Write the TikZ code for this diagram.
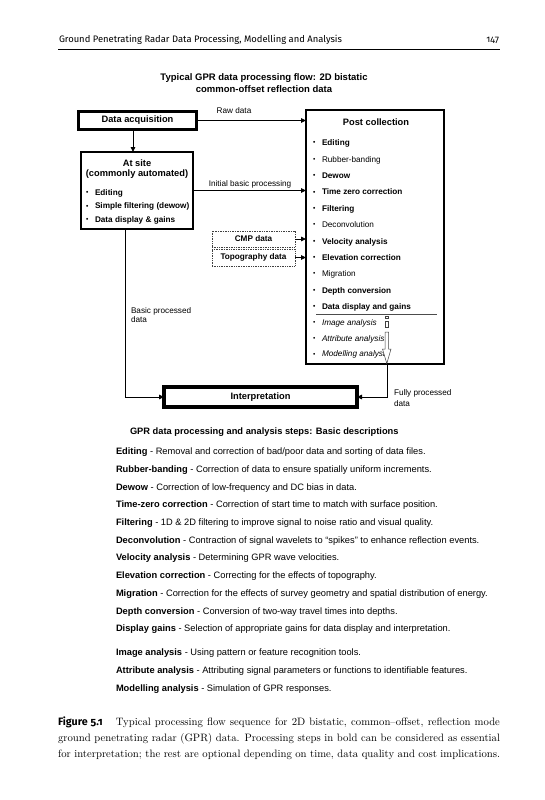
\documentclass[tikz,border=0pt]{standalone}
\usepackage{fontspec}
\newfontfamily\arial{Liberation Sans}
\newfontfamily\hdr[Numbers=OldStyle]{Fira Sans}
\usetikzlibrary{arrows.meta}
\newcommand{\bul}{\makebox[9pt][l]{\raisebox{0.4pt}{\scalebox{0.8}{•}}}}
\begin{document}
\begin{tikzpicture}[x=1pt,y=-1pt,
  every node/.style={inner sep=0pt, outer sep=0pt},
  box/.style={draw, line width=1.3pt, rectangle},
  heavybox/.style={draw, rectangle},
  dotbox/.style={draw=black!75, line width=0.6pt, dash pattern=on 1pt off 0.7pt, rectangle},
  head/.style={font=\arial\bfseries\fontsize{9.3}{11}\selectfont},
  itm/.style={font=\arial\fontsize{8.2}{10}\selectfont, anchor=base west},
  bitm/.style={itm, font=\arial\bfseries\fontsize{8.2}{10}\selectfont},
  lbl/.style={font=\arial\fontsize{8.2}{10}\selectfont},
  dsc/.style={font=\arial\fontsize{9.3}{11}\selectfont, anchor=base west},
  captext/.style={font=\fontsize{10.7}{13}\selectfont, anchor=base west},
  conn/.style={line width=0.9pt},
  arr/.style={conn, -{Triangle[length=5pt,width=4.5pt]}},
]
\fill[white] (0,0) rectangle (545,800);
\useasboundingbox (0,0) rectangle (545,800);

% page header
\node[font=\hdr\fontsize{9.4}{11}\selectfont, anchor=base west] (hd) at (59,43) {Ground Penetrating Radar Data Processing, Modelling and Analysis};
\node[font=\hdr\fontsize{9.4}{11}\selectfont, anchor=base east] (pg) at (499,43) {147};
\draw[line width=0.5pt] (58,49) -- (500,49);

% title
\node[font=\arial\bfseries\fontsize{9.5}{12}\selectfont, align=center, anchor=base] (ttl) at (264,92.5)
  {Typical GPR data processing flow: 2D bistatic\\common-offset reflection data};

% boxes
\node[heavybox, line width=3pt, minimum width=118pt, minimum height=18pt, head] (acq) at (137.5,120.5) {Data acquisition};
\node[box, minimum width=112pt, minimum height=77pt] (site) at (137,190.5) {};
\node[box, minimum width=138pt, minimum height=254pt] (post) at (375,237) {};
\node[heavybox, line width=4pt, minimum width=193pt, minimum height=20pt, head] (interp) at (260.5,397) {Interpretation};
\node[dotbox, minimum width=83pt, minimum height=16pt, font=\arial\bfseries\fontsize{8.2}{10}\selectfont] (cmp) at (253.5,239) {CMP data};
\node[dotbox, minimum width=83pt, minimum height=17pt, font=\arial\bfseries\fontsize{8.2}{10}\selectfont] (topo) at (253.5,257.5) {Topography data};

% at site contents
\node[head, anchor=base] (s0) at (137,166.5) {At site};
\node[head, anchor=base] (s1) at (137,176.8) {(commonly automated)};
\node[bitm] (s2) at (86,195) {\bul Editing};
\node[bitm] (s3) at (86,208.5) {\bul Simple filtering (dewow)};
\node[bitm] (s4) at (86,222) {\bul Data display \& gains};

% post collection contents
\node[head, anchor=base] (p0) at (376,125.5) {Post collection};
\node[bitm] (p1) at (313,145) {\bul Editing};
\node[itm] (p2) at (313,162) {\bul Rubber-banding};
\node[bitm] (p3) at (313,178) {\bul Dewow};
\node[bitm] (p4) at (313,194.5) {\bul Time zero correction};
\node[bitm] (p5) at (313,211) {\bul Filtering};
\node[itm] (p6) at (313,227) {\bul Deconvolution};
\node[bitm] (p7) at (313,244) {\bul Velocity analysis};
\node[bitm] (p8) at (313,260) {\bul Elevation correction};
\node[itm] (p9) at (313,276) {\bul Migration};
\node[bitm] (p10) at (313,293) {\bul Depth conversion};
\node[bitm] (p11) at (313,309) {\bul Data display and gains};
\draw[line width=0.5pt, black!70] (316,314) -- (437,314);
\node[itm] (p12) at (313,325) {\bul\itshape Image analysis};
\node[itm] (p13) at (313,341) {\bul\itshape Attribute analysis};
\node[itm] (p14) at (313,356.5) {\bul\itshape Modelling analysis};

% fading hollow arrow
\draw[line width=0.5pt, black!75, fill=white] (385.5,316.5) rectangle (388,318.5);
\draw[line width=0.5pt, black!75, fill=white] (385,321) rectangle (388.5,327.5);
\draw[line width=0.5pt, black!75, fill=white, line join=miter]
  (385,332) -- (385,349) -- (382.5,349) -- (386.8,363.5) -- (391,349) -- (388.5,349) -- (388.5,332) -- cycle;

% connectors
\draw[arr] (acq.east) -- (acq.east -| post.west);
\node[lbl, anchor=base] (lraw) at (234,113.5) {Raw data};
\draw[arr] (acq.south -| 133,0) -- (site.north -| 133,0);
\draw[arr] (site.east) -- (site.east -| post.west);
\node[lbl, anchor=base] (lini) at (250,186) {Initial basic processing};
\draw[arr] (cmp.east) -- (cmp.east -| post.west);
\draw[arr] (topo.east) -- (topo.east -| post.west);
\draw[arr] (site.south -| 125,0) |- (interp.west);
\node[font=\arial\fontsize{8.2}{9.5}\selectfont, anchor=base west, align=left] (lbas) at (131,322.5) {Basic processed\\data};
\draw[arr] (post.south -| 387,0) |- (interp.east);
\node[font=\arial\fontsize{8.2}{11.5}\selectfont, anchor=base west, align=left] (lful) at (394,406.5) {Fully processed\\data};

% descriptions
\node[dsc, font=\arial\bfseries\fontsize{9.3}{11}\selectfont] (dh) at (130,434.5) {GPR data processing and analysis steps: Basic descriptions};
\node[dsc] (d1) at (116,454.5) {\textbf{Editing} - Removal and correction of bad/poor data and sorting of data files.};
\node[dsc] (d2) at (116,472.2) {\textbf{Rubber-banding} - Correction of data to ensure spatially uniform increments.};
\node[dsc] (d3) at (116,490) {\textbf{Dewow} - Correction of low-frequency and DC bias in data.};
\node[dsc] (d4) at (116,507.7) {\textbf{Time-zero correction} - Correction of start time to match with surface position.};
\node[dsc] (d5) at (116,525.4) {\textbf{Filtering} - 1D \& 2D filtering to improve signal to noise ratio and visual quality.};
\node[dsc] (d6) at (116,543.2) {\textbf{Deconvolution} - Contraction of signal wavelets to “spikes” to enhance reflection events.};
\node[dsc] (d7) at (116,560.9) {\textbf{Velocity analysis} - Determining GPR wave velocities.};
\node[dsc] (d8) at (116,578.6) {\textbf{Elevation correction} - Correcting for the effects of topography.};
\node[dsc] (d9) at (116,596.4) {\textbf{Migration} - Correction for the effects of survey geometry and spatial distribution of energy.};
\node[dsc] (d10) at (116,614.1) {\textbf{Depth conversion} - Conversion of two-way travel times into depths.};
\node[dsc] (d11) at (116,631.8) {\textbf{Display gains} - Selection of appropriate gains for data display and interpretation.};
\node[dsc] (d12) at (116,655.5) {\textbf{Image analysis} - Using pattern or feature recognition tools.};
\node[dsc] (d13) at (116,673.2) {\textbf{Attribute analysis} - Attributing signal parameters or functions to identifiable features.};
\node[dsc] (d14) at (116,691) {\textbf{Modelling analysis} - Simulation of GPR responses.};

% caption
\node[captext] (c1) at (58,725.5)
  {\makebox[442pt][s]{{\hdr\bfseries Figure 5.1}\hspace{9pt} Typical processing flow sequence for 2D bistatic, common–offset, reflection mode}};
\node[captext] (c2) at (58,741.5)
  {\makebox[442pt][s]{ground penetrating radar (GPR) data. Processing steps in bold can be considered as essential}};
\node[captext] (c3) at (58,757.5)
  {\makebox[442pt][s]{for interpretation; the rest are optional depending on time, data quality and cost implications.}};
\end{tikzpicture}
\end{document}
